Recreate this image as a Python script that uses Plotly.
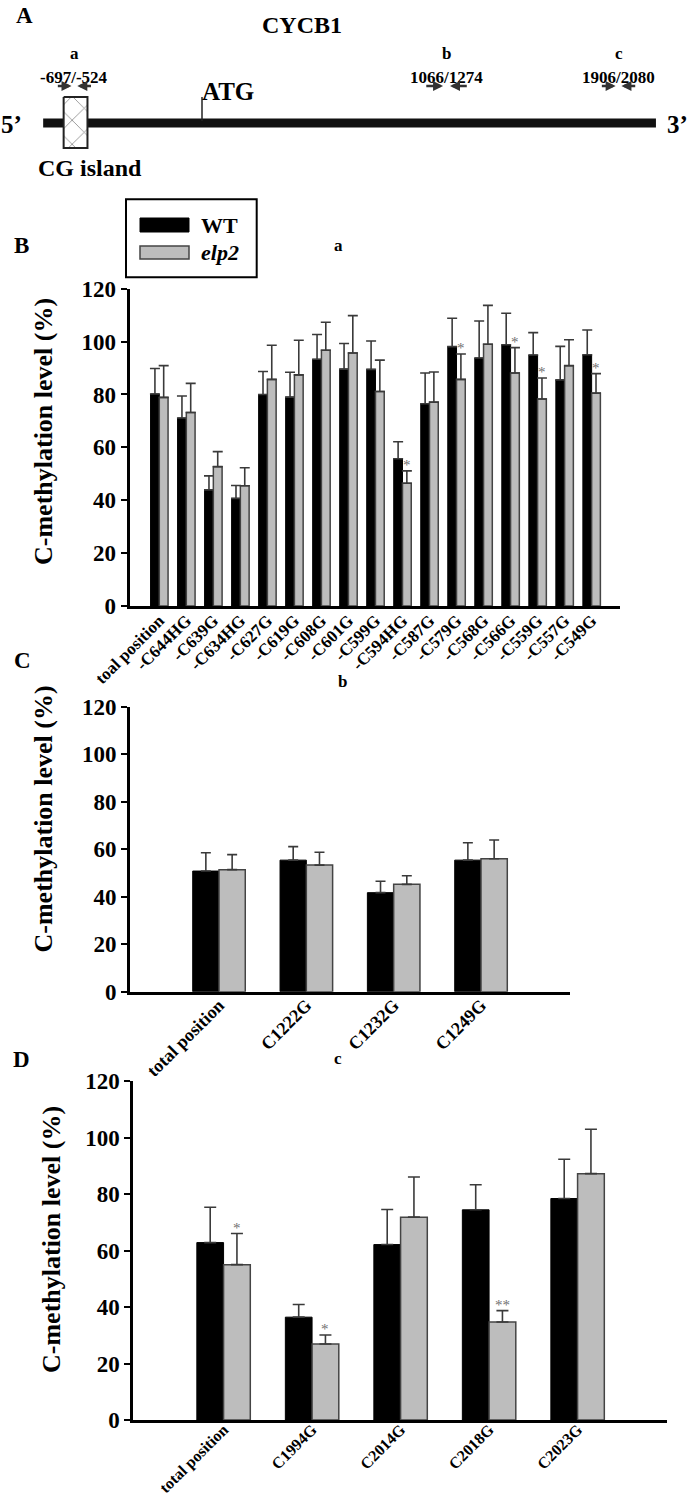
import plotly.graph_objects as go

W, H = 688, 1497
FONT = "Liberation Serif"


def px(x):
    return x / W


def py(y):
    return 1 - y / H


# ---------------- Panel A: CYCB1 gene map (bp relative to ATG) ----------------
amplicon_names = ["a", "b", "c"]
amplicon_start = [-697, 1066, 1906]
amplicon_end = [-524, 1274, 2080]
atg_pos = 0
gene_span = [-760, 2172]
cg_island = [-662, -548]

# ---------------- Panel B (region a) ----------------
b_categories = ["toal position", "-C644HG", "-C639G", "-C634HG", "-C627G", "-C619G",
                "-C608G", "-C601G", "-C599G", "-C594HG", "-C587G", "-C579G",
                "-C568G", "-C566G", "-C559G", "-C557G", "-C549G"]
b_wt = [80.2, 71.1, 43.9, 40.7, 80.0, 79.0, 93.3, 89.6, 89.5, 55.7, 76.5, 98.1,
        93.8, 98.8, 94.9, 85.5, 95.0]
b_wt_sd = [9.6, 8.3, 5.3, 4.9, 8.7, 9.4, 9.4, 9.7, 10.7, 6.4, 11.6, 10.7,
           14.0, 11.9, 8.5, 12.7, 9.4]
b_elp2 = [78.9, 73.2, 52.7, 45.5, 85.7, 87.4, 96.7, 95.7, 81.1, 46.4, 77.1, 85.7,
          99.0, 88.1, 78.3, 90.9, 80.5]
b_elp2_sd = [12.0, 11.0, 5.7, 6.8, 12.9, 13.1, 10.6, 14.1, 11.9, 4.7, 11.4, 9.6,
             14.7, 9.6, 7.9, 9.8, 7.4]
b_sig = ["", "", "", "", "", "", "", "", "", "*", "", "*", "", "*", "*", "", "*"]

# ---------------- Panel C (region b) ----------------
c_categories = ["total position", "C1222G", "C1232G", "C1249G"]
c_wt = [50.8, 55.4, 41.7, 55.4]
c_wt_sd = [7.7, 5.7, 4.8, 7.3]
c_elp2 = [51.4, 53.3, 45.2, 56.0]
c_elp2_sd = [6.3, 5.4, 3.6, 7.9]
c_sig = ["", "", "", ""]

# ---------------- Panel D (region c) ----------------
d_categories = ["total position", "C1994G", "C2014G", "C2018G", "C2023G"]
d_wt = [62.8, 36.4, 62.1, 74.4, 78.4]
d_wt_sd = [12.5, 4.5, 12.4, 8.9, 13.9]
d_elp2 = [55.0, 26.9, 71.8, 34.7, 87.2]
d_elp2_sd = [11.0, 3.2, 14.2, 4.0, 15.7]
d_sig = ["*", "*", "", "**", ""]

y_ticks = [0, 20, 40, 60, 80, 100, 120]

WT_COLOR = "#000000"
ELP_COLOR = "#bdbdbd"
ELP_LINE = "#444444"
ERR_COLOR = "#3a3a3a"
STAR_COLOR = "#707070"

fig = go.Figure()
annotations = []
shapes = []

panels = [
    dict(cats=b_categories, wt=b_wt, wsd=b_wt_sd, el=b_elp2, esd=b_elp2_sd, sig=b_sig,
         xa="x", ya="y", w=0.324, cap=5, xd=(129.5, 620), yd=(606, 288.7),
         xr=[-1.103, 17.05], lab=17, stand=-5),
    dict(cats=c_categories, wt=c_wt, wsd=c_wt_sd, el=c_elp2, esd=c_elp2_sd, sig=c_sig,
         xa="x2", ya="y2", w=0.301, cap=5, xd=(130, 570), yd=(991.7, 706.7),
         xr=[-1.019, 4.019], lab=18, stand=-7),
    dict(cats=d_categories, wt=d_wt, wsd=d_wt_sd, el=d_elp2, esd=d_elp2_sd, sig=d_sig,
         xa="x3", ya="y3", w=0.302, cap=6, xd=(133.3, 666.7), yd=(1420, 1081),
         xr=[-1.02, 5.007], lab=16, stand=-9),
]

layout_axes = {}
for i, p in enumerate(panels):
    n = len(p["cats"])
    fig.add_trace(go.Bar(
        x=p["cats"], y=p["wt"], name="WT", xaxis=p["xa"], yaxis=p["ya"],
        width=p["w"], offset=-p["w"],
        marker=dict(color=WT_COLOR, line=dict(color="#000000", width=1)),
        error_y=dict(type="data", symmetric=False, array=p["wsd"], arrayminus=[0] * n,
                     color=ERR_COLOR, thickness=1.6, width=p["cap"]),
        showlegend=False))
    fig.add_trace(go.Bar(
        x=p["cats"], y=p["el"], name="elp2", xaxis=p["xa"], yaxis=p["ya"],
        width=p["w"], offset=0,
        marker=dict(color=ELP_COLOR, line=dict(color=ELP_LINE, width=1.5)),
        error_y=dict(type="data", symmetric=False, array=p["esd"], arrayminus=[0] * n,
                     color=ERR_COLOR, thickness=1.6, width=p["cap"]),
        showlegend=False))
    for j, s in enumerate(p["sig"]):
        if s:
            annotations.append(dict(
                x=j + p["w"] / 2, y=p["el"][j] + p["esd"][j], xref=p["xa"], yref=p["ya"],
                text=s, showarrow=False, yanchor="bottom", yshift=-4,
                font=dict(family=FONT, size=15, color=STAR_COLOR)))
    suffix = "" if i == 0 else str(i + 1)
    layout_axes["xaxis" + suffix] = dict(
        domain=[px(p["xd"][0]), px(p["xd"][1])], range=p["xr"], anchor=p["ya"],
        type="category", showline=True, linewidth=3, linecolor="black",
        ticks="", tickangle=-45, showgrid=False, zeroline=False, automargin=False,
        ticklabelstandoff=p["stand"],
        tickfont=dict(family=FONT, size=p["lab"], color="black", weight="bold"))
    layout_axes["yaxis" + suffix] = dict(
        domain=[py(p["yd"][0]), py(p["yd"][1])], range=[0, 120], anchor=p["xa"],
        tickvals=y_ticks, ticks="outside", ticklen=6, tickwidth=2, tickcolor="black",
        showline=True, linewidth=3, linecolor="black", showgrid=False, zeroline=False,
        automargin=False,
        tickfont=dict(family=FONT, size=23, color="black", weight="bold"))

# ---------------- Panel A drawing (x4 = bp, y4 = pixel rows) ----------------
fig.add_trace(go.Scatter(
    x=gene_span, y=[123, 123], xaxis="x4", yaxis="y4", mode="lines",
    line=dict(color="#111111", width=9), hoverinfo="skip", showlegend=False))
fig.add_trace(go.Scatter(
    x=[cg_island[0], cg_island[1], cg_island[1], cg_island[0], cg_island[0]],
    y=[97, 97, 148, 148, 97], xaxis="x4", yaxis="y4", mode="lines",
    fill="toself", fillcolor="white",
    fillpattern=dict(shape="x", size=17, solidity=0.1, fgcolor="#222222", bgcolor="white"),
    line=dict(color="#222222", width=2), hoverinfo="skip", showlegend=False))

shapes.append(dict(type="line", xref="x4", yref="y4", x0=atg_pos, x1=atg_pos, y0=97, y1=121,
                   line=dict(color="#222222", width=1.5)))
annotations.append(dict(x=atg_pos, y=91, xref="x4", yref="y4", text="ATG", showarrow=False,
                        xanchor="left", yanchor="middle", xshift=-2,
                        font=dict(family=FONT, size=25, color="black", weight="bold")))

for name, s, e in zip(amplicon_names, amplicon_start, amplicon_end):
    mid = (s + e) / 2
    ln = e - s
    annotations.append(dict(x=mid, y=53, xref="x4", yref="y4", text=name, showarrow=False,
                            font=dict(family=FONT, size=17, color="black", weight="bold")))
    annotations.append(dict(x=mid, y=77, xref="x4", yref="y4", text=f"{s}/{e}",
                            showarrow=False,
                            font=dict(family=FONT, size=17, color="black", weight="bold")))
    for tail, tip in ((s, s + 0.42 * ln), (e, e - 0.42 * ln)):
        annotations.append(dict(x=tip, y=86, ax=tail, ay=86, xref="x4", yref="y4",
                                axref="x4", ayref="y4", text="", showarrow=True,
                                arrowhead=2, arrowsize=0.8, arrowwidth=2.5,
                                arrowcolor="#333333"))

texts_paper = [
    ("A", 24, 15, 23, "normal"),
    ("CYCB1", 302, 25, 24, "normal"),
    ("5’", 11, 124, 25, "normal"),
    ("3’", 677, 124, 25, "normal"),
    ("CG island", 90, 168, 24, "normal"),
    ("B", 21.5, 245, 23, "normal"),
    ("a", 338, 245, 17, "normal"),
    ("C", 22, 660, 23, "normal"),
    ("b", 342, 682, 17, "normal"),
    ("D", 21.5, 1059, 23, "normal"),
    ("c", 338, 1058, 17, "normal"),
]
for t, x, y, sz, st in texts_paper:
    annotations.append(dict(x=px(x), y=py(y), xref="paper", yref="paper", text=t,
                            showarrow=False, xanchor="center", yanchor="middle",
                            font=dict(family=FONT, size=sz, color="black", weight="bold",
                                      style=st)))

# y-axis titles
for x, y in ((43, 432), (42.5, 819), (51, 1240)):
    annotations.append(dict(x=px(x), y=py(y), xref="paper", yref="paper",
                            text="C-methylation level (%)", textangle=-90, showarrow=False,
                            xanchor="center", yanchor="middle",
                            font=dict(family=FONT, size=26, color="black", weight="bold")))

# legend (panel B)
shapes.append(dict(type="rect", xref="paper", yref="paper", x0=px(126), x1=px(256.7),
                   y0=py(277.3), y1=py(199.3), line=dict(color="black", width=2),
                   fillcolor="white", layer="below"))
shapes.append(dict(type="rect", xref="paper", yref="paper", x0=px(140), x1=px(189),
                   y0=py(232), y1=py(218), line=dict(color="black", width=1),
                   fillcolor=WT_COLOR))
shapes.append(dict(type="rect", xref="paper", yref="paper", x0=px(140), x1=px(189),
                   y0=py(259), y1=py(246), line=dict(color=ELP_LINE, width=1.5),
                   fillcolor=ELP_COLOR))
annotations.append(dict(x=px(199), y=py(225), xref="paper", yref="paper", text="WT",
                        showarrow=False, xanchor="left", yanchor="middle",
                        font=dict(family=FONT, size=22, color="black", weight="bold")))
annotations.append(dict(x=px(199), y=py(253), xref="paper", yref="paper", text="elp2",
                        showarrow=False, xanchor="left", yanchor="middle",
                        font=dict(family=FONT, size=22, color="black", weight="bold",
                                  style="italic")))

x4_range = [(0 - 202) / 0.209, (688 - 202) / 0.209]
layout_axes["xaxis4"] = dict(domain=[0, 1], range=x4_range, anchor="y4", visible=False,
                             showgrid=False, zeroline=False, automargin=False)
layout_axes["yaxis4"] = dict(domain=[py(200), 1], range=[200, 0], anchor="x4",
                             visible=False, showgrid=False, zeroline=False, automargin=False)

fig.update_layout(
    width=W, height=H, margin=dict(l=0, r=0, t=0, b=0, autoexpand=False),
    paper_bgcolor="white", plot_bgcolor="white",
    barmode="overlay", annotations=annotations, shapes=shapes,
    font=dict(family=FONT, color="black"),
    **layout_axes)

fig.write_html("out.html", config={"displayModeBar": False},
               post_script="document.body.style.margin='0';")
